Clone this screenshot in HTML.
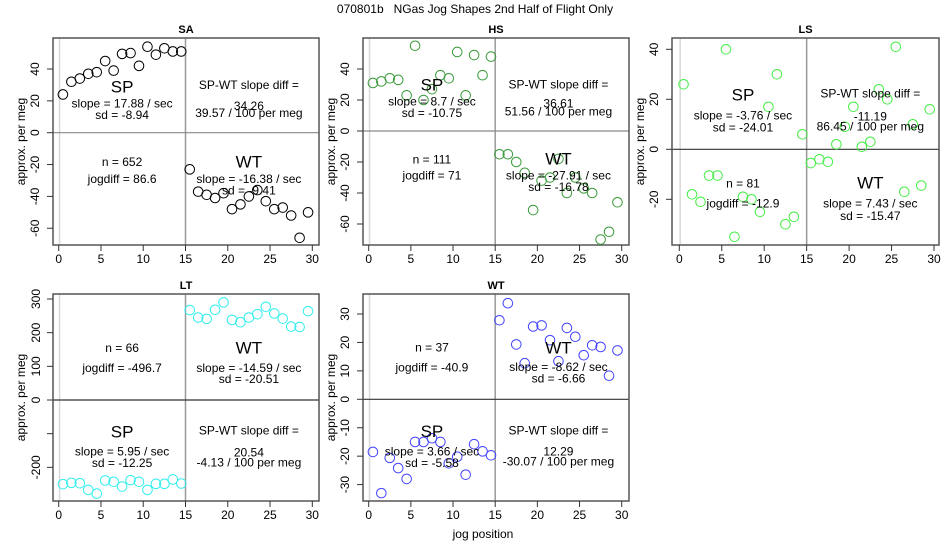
<!DOCTYPE html>
<html><head><meta charset="utf-8"><style>
html,body{margin:0;padding:0;background:#fff;}
svg{display:block;font-family:"Liberation Sans",Arial,sans-serif;}
</style></head><body>
<svg id="c" width="950" height="550" viewBox="0 0 950 550" xmlns="http://www.w3.org/2000/svg">
<text x="475" y="13" text-anchor="middle" font-size="12" style="white-space:pre">070801b   NGas Jog Shapes 2nd Half of Flight Only</text>
<text x="483" y="538" text-anchor="middle" font-size="12">jog position</text>
</svg>
<script>
const xPos = [0.5,1.5,2.5,3.5,4.5,5.5,6.5,7.5,8.5,9.5,10.5,11.5,12.5,13.5,14.5,15.5,16.5,17.5,18.5,19.5,20.5,21.5,22.5,23.5,24.5,25.5,26.5,27.5,28.5,29.5];
const xTicks = [0,5,10,15,20,25,30];
const saValues = [24,32,34,37,38,45,39,49.5,50,42,54,49,53,51,51,-23,-37,-39,-41,-38,-48,-45,-40,-36,-43,-48,-47,-52,-66,-50];
const hsValues = [31,32,34,33,23,55,20,27,36,34,51,23,49,36,48,-15,-15,-20,-27,-51,-32,-30,-18,-40,-30,-37,-40,-70,-65,-46];
const lsValues = [26,-18,-21,-10.5,-10.5,40,-35,-19,-20,-25,17,30,-30,-27,6,-5.5,-4,-5,2,9,17,1,3,24,20,41,-17,10,-14.5,16];
const ltValues = [-250,-246,-247,-267,-278,-239,-243,-257,-238,-243,-267,-249,-249,-236,-248,267,245,241,268,290,238,231,245,255,277,257,242,218,217,264];
const wtValues = [-18.5,-33,-20.6,-24.2,-28,-15,-15,-13.7,-15,-22.5,-20.2,-26.5,-15.8,-18.3,-19.7,27.8,33.8,19.3,12.7,25.6,26,20.8,13.4,25.1,22,15.5,19,18.4,8.3,17.2];
const saTicks = [-60,-40,-20,0,20,40];
const hsTicks = [-60,-40,-20,0,20,40];
const lsTicks = [-20,0,20,40];
const ltTicks = [-200,-100,0,100,200,300];
const ltTickLabels = ["-200","","0","100","200","300"];
const wtTicks = [-30,-20,-10,0,10,20,30];

const NS="http://www.w3.org/2000/svg";
const svg=document.getElementById('c');
function mk(tag,attrs,parent){const e=document.createElementNS(NS,tag);for(const k in attrs)e.setAttribute(k,attrs[k]);(parent||svg).appendChild(e);return e;}

const panels=[
 {name:'sa',title:'SA',vals:saValues,ticks:saTicks,labels:null,color:'#000',hcol:'#888',
  box:[53,38,319,245],x0:58.7,x30:312.3,yv:[40,0],yp:[69,132.7],ylx:39,ytx:25,
  txt:{top:true,sp:[49,65.7,77],d:[47,68,75],nj:[124,141],wt:[124,141,152.7]},
  s:['17.88','-8.94','34.26','39.57','652','86.6','-16.38','-9.41']},
 {name:'hs',title:'HS',vals:hsValues,ticks:hsTicks,labels:null,color:'#3a9a3a',hcol:'#888',
  box:[363,38,629,245],x0:368.7,x30:621.7,yv:[40,0],yp:[69,131],ylx:349,ytx:335,
  txt:{top:true,sp:[47,63.7,75],d:[46.3,65.7,73.7],nj:[121.3,137.7],wt:[121,137.7,149]},
  s:['8.7','-10.75','36.61','51.56','111','71','-27.91','-16.78']},
 {name:'ls',title:'LS',vals:lsValues,ticks:lsTicks,labels:null,color:'#44ee44',hcol:'#333',
  box:[672,38,939,245],x0:679.3,x30:934,yv:[40,0],yp:[49.3,149.3],ylx:658,ytx:644,
  txt:{top:true,sp:[57,77.3,89.7],d:[55.3,78.7,88.7],nj:[145.3,165.3],wt:[145,165.3,178]},
  s:['-3.76','-24.01','-11.19','86.45','81','-12.9','7.43','-15.47']},
 {name:'lt',title:'LT',vals:ltValues,ticks:ltTicks,labels:ltTickLabels,color:'#33eeee',hcol:'#333',
  box:[53,294,319,501],x0:58.7,x30:312.3,yv:[300,0],yp:[299,400],ylx:40,ytx:25,
  txt:{top:false,sp:[138,157.4,169],d:[136.7,158.4,168.4],nj:[54,74],wt:[54,74,85]},
  s:['5.95','-12.25','20.54','-4.13','66','-496.7','-14.59','-20.51']},
 {name:'wt',title:'WT',vals:wtValues,ticks:wtTicks,labels:null,color:'#4444ff',hcol:'#333',
  box:[363,294,629,501],x0:368.7,x30:621.7,yv:[30,0],yp:[314,399.3],ylx:349,ytx:335,
  txt:{top:false,sp:[137.4,157.4,169],d:[136.7,157.7,167.4],nj:[53.4,73.4],wt:[54,73,84.7]},
  s:['3.66','-5.58','12.29','-30.07','37','-40.9','-8.62','-6.66']}
];

panels.forEach(p=>{
  const g=mk('g',{});
  
  
  const [L,T,R,B]=p.box;
  const sx=v=>p.x0+(p.x30-p.x0)*v/30;
  const k=(p.yp[1]-p.yp[0])/(p.yv[1]-p.yv[0]);
  const sy=v=>p.yp[1]+(v-p.yv[1])*k;
  const t=mk('text',{x:(L+R)/2,y:T-5,'text-anchor':'middle','font-size':11,'font-weight':'bold'},g);
  t.textContent=p.title;
  
  
  const l0=mk('line',{x1:sx(0.1),x2:sx(0.1),y1:T,y2:B,stroke:'#d8d8d8','stroke-width':1.5},g);
  
  
  const lv=mk('line',{x1:sx(15),x2:sx(15),y1:T,y2:B,stroke:'#999','stroke-width':1.5},g);
  
  
  const lh=mk('line',{x1:L,x2:R,y1:sy(0),y2:sy(0),stroke:p.hcol,'stroke-width':1.2},g);
  
  
  const box=mk('rect',{x:L,y:T,width:R-L,height:B-T,fill:'none',stroke:'#555','stroke-width':1.5},g);
  
  
  xTicks.forEach(v=>{
    mk('line',{x1:sx(v),x2:sx(v),y1:B,y2:B+6,stroke:'#333'},g);
    const tl=mk('text',{x:sx(v),y:B+18,'text-anchor':'middle','font-size':12},g);
    tl.textContent=v;
    
    
  });
  p.ticks.forEach((v,i)=>{
    mk('line',{x1:L-6,x2:L,y1:sy(v),y2:sy(v),stroke:'#333'},g);
    const lab=p.labels?p.labels[i]:String(v);
    if(lab){
      const yl=mk('text',{x:p.ylx,y:sy(v),'text-anchor':'middle','font-size':12,transform:`rotate(-90 ${p.ylx} ${sy(v)})`},g);
      yl.textContent=lab;
      
      
    }
  });
  const yt=mk('text',{x:p.ytx,y:(T+B)/2,'text-anchor':'middle','font-size':12,transform:`rotate(-90 ${p.ytx} ${(T+B)/2})`},g);
  yt.textContent='approx. per meg';
  
  
  p.vals.forEach((v,i)=>{
    const c=mk('circle',{cx:sx(xPos[i]),cy:sy(v),r:4.8,fill:'none',stroke:p.color,'stroke-width':1},g);
    
    
  });
  const xl=sx(7.5), xr=sx(22.5);
  function tx(x,yoff,str,size,nm){
    const e=mk('text',{x:x,y:T+yoff,'text-anchor':'middle','dominant-baseline':'central','font-size':size},g);
    e.textContent=str;
    
    
  }
  const s=p.s, a=p.txt;
  tx(xl,a.sp[0],'SP',17,'sp-label');
  tx(xl,a.sp[1],'slope = '+s[0]+' / sec',12,'sp-slope');
  tx(xl,a.sp[2],'sd = '+s[1],12,'sp-sd');
  tx(xr,a.d[0],'SP-WT slope diff =',12,'slope-diff-label');
  tx(xr,a.d[1],s[2],12,'slope-diff-value');
  tx(xr,a.d[2],s[3]+' / 100 per meg',12,'per-meg-value');
  tx(xl,a.nj[0],'n = '+s[4],12,'n-count');
  tx(xl,a.nj[1],'jogdiff = '+s[5],12,'jogdiff');
  tx(xr,a.wt[0],'WT',17,'wt-label');
  tx(xr,a.wt[1],'slope = '+s[6]+' / sec',12,'wt-slope');
  tx(xr,a.wt[2],'sd = '+s[7],12,'wt-sd');
});
</script>
</body></html>
